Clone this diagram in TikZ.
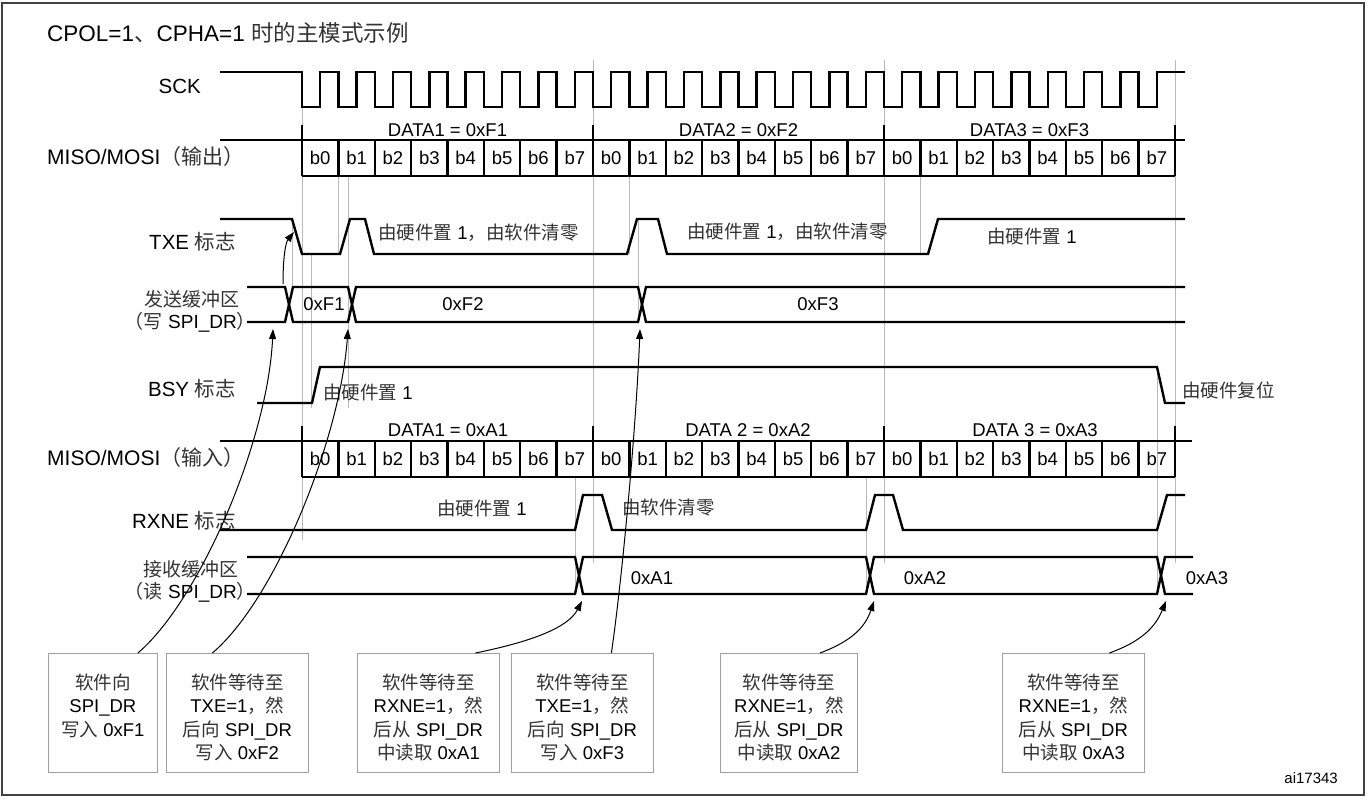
\documentclass[tikz,border=0pt]{standalone}
\usepackage{fontspec}
\setmainfont{Liberation Sans}
\newfontfamily\zhfont{Noto Sans CJK SC}
\usetikzlibrary{arrows.meta}

\newcommand{\zh}[1]{{\zhfont\color{black!80}#1}}
\newcommand{\swtext}[2]{\parbox[c][119pt][t]{#1}{\centering\fontsize{18.5}{23.5}\selectfont\rule{0pt}{36pt}#2}}

\begin{document}
\begin{tikzpicture}[
  x=1pt, y=-1pt,
  sig/.style={line width=2.4pt},
  guide/.style={gray!55, line width=0.7pt},
  lbl/.style={font=\fontsize{20.5}{25}\selectfont, inner sep=0pt},
  buflbl/.style={font=\fontsize{19}{23}\selectfont, inner sep=0pt},
  txt/.style={font=\fontsize{18.5}{22}\selectfont, inner sep=0pt},
  swbox/.style={draw=gray!75, line width=0.8pt, inner sep=0pt, anchor=north west},
  arr/.style={-{Triangle[length=10pt,width=7pt]}, line width=1pt}
]
\useasboundingbox (0,0) rectangle (1367,799);
\draw[black!75, line width=1.5pt] (2,3) rectangle (1364,795);

% guide lines
\foreach \x/\ya/\yb in {302/107/540, 292/219/287, 311/254/408, 338/176/254, 348/176/408,
  593/60/563, 629/176/254, 638/219/322, 884/60/563, 920/176/254, 1175/60/563,
  575/477/594, 866/477/594, 1157/368/594}
  \draw[guide] (\x,\ya) -- (\x,\yb);

% signal names
\node[lbl, font=\fontsize{22.5}{26}\selectfont, anchor=west] (title) at (47,33) {CPOL=1\zh{、}CPHA=1 \zh{时的主模式示例}};
\node[lbl, anchor=east] (sck) at (201,86) {SCK};
\node[lbl, font=\fontsize{21}{25}\selectfont, anchor=west] (mout) at (47,157) {MISO/MOSI\zh{（输出）}};
\node[lbl, anchor=east] (txe) at (236,242) {TXE \zh{标志}};
\node[buflbl] (txbuf) at (192,299) {\zh{发送缓冲区}};
\node[buflbl, anchor=east] (txwr) at (256,322) {\zh{（写} SPI\_DR\zh{）}};
\node[lbl, anchor=east] (bsy) at (236,389) {BSY \zh{标志}};
\node[lbl, font=\fontsize{21}{25}\selectfont, anchor=west] (min) at (47,458) {MISO/MOSI\zh{（输入）}};
\node[lbl, anchor=east] (rxne) at (236,521) {RXNE \zh{标志}};
\node[buflbl] (rxbuf) at (191,569) {\zh{接收缓冲区}};
\node[buflbl, anchor=east] (rxrd) at (256,592) {\zh{（读} SPI\_DR\zh{）}};

% SCK
\draw[sig] (220,72) -- (302,72)
  \foreach \k in {1,...,24} { -- ++(0,35) -- ++(18.1875,0) -- ++(0,-35) -- ++(18.1875,0) }
  -- (1185,72);

% data frames, out and in
\draw[sig] (220,140) -- (1185,140);
\draw[sig] (302,176) -- (1175,176);
\draw[sig] (220,441) -- (1192,441);
\draw[sig] (302,477) -- (1175,477);
\foreach \k in {0,...,24} {
  \draw[sig] ({302+\k*36.375},140) -- ({302+\k*36.375},176);
  \draw[sig] ({302+\k*36.375},441) -- ({302+\k*36.375},477);
}
\foreach \x in {302,593,884,1175} {
  \draw[sig] (\x,125) -- (\x,140);
  \draw[sig] (\x,426) -- (\x,441);
}
\foreach \k in {0,...,23} {
  \pgfmathtruncatemacro\b{mod(\k,8)}
  \node[txt] (ob\k) at ({320.19+\k*36.375},158) {b\b};
  \node[txt] (ib\k) at ({320.19+\k*36.375},459) {b\b};
}
\node[txt] (dout1) at (447.5,130) {DATA1 = 0xF1};
\node[txt] (dout2) at (738.5,130) {DATA2 = 0xF2};
\node[txt] (dout3) at (1029.5,130) {DATA3 = 0xF3};
\node[txt] (din1) at (448,430) {DATA1 = 0xA1};
\node[txt] (din2) at (748,430) {DATA 2 = 0xA2};
\node[txt] (din3) at (1035,430) {DATA 3 = 0xA3};

% TXE
\draw[sig] (220,219) -- (292,219) -- (302,254) -- (340,254) -- (350,219) -- (365,219) -- (374,254)
  -- (627,254) -- (637,219) -- (658,219) -- (667,254) -- (928,254) -- (938,219) -- (1185,219);
\node[txt, anchor=west] (txeset1) at (378,233) {\zh{由硬件置} 1\zh{，由软件清零}};
\node[txt, anchor=west] (txeset2) at (687,232) {\zh{由硬件置} 1\zh{，由软件清零}};
\node[txt, anchor=west] (txeset3) at (987,236) {\zh{由硬件置} 1};

% transmit buffer
\draw[sig] (247,287) -- (285,287) -- (293,322) -- (348,322) -- (356,287) -- (638,287) -- (646,322) -- (1185,322);
\draw[sig] (247,322) -- (285,322) -- (293,287) -- (348,287) -- (356,322) -- (638,322) -- (646,287) -- (1185,287);
\node[txt] (f1) at (324,304) {0xF1};
\node[txt] (f2) at (463,304) {0xF2};
\node[txt] (f3) at (818,304) {0xF3};

% BSY
\draw[sig] (257,403) -- (312,403) -- (320,367) -- (1157,367) -- (1165,403) -- (1185,403);
\node[txt, anchor=west] (bsyset) at (323,392) {\zh{由硬件置} 1};
\node[txt, anchor=west] (bsyclr) at (1182,390) {\zh{由硬件复位}};

% RXNE
\draw[sig] (220,530) -- (575,530) -- (583,495) -- (602,495) -- (612,530) -- (866,530) -- (875,495)
  -- (893,495) -- (903,530) -- (1157,530) -- (1167,495) -- (1185,495);
\node[txt, anchor=west] (rxneset) at (437,508) {\zh{由硬件置} 1};
\node[txt, anchor=west] (rxneclr) at (622,508) {\zh{由软件清零}};

% receive buffer
\draw[sig] (247,557) -- (575,557) -- (583,594) -- (866,594) -- (874,557) -- (1157,557) -- (1165,594) -- (1193,594);
\draw[sig] (247,594) -- (575,594) -- (583,557) -- (866,557) -- (874,594) -- (1157,594) -- (1165,557) -- (1193,557);
\node[txt] (a1) at (652,578) {0xA1};
\node[txt] (a2) at (925,578) {0xA2};
\node[txt] (a3) at (1207,578) {0xA3};

% software steps
\node[swbox] (sw1) at (48,653) {\swtext{109pt}{\zh{软件向}\\SPI\_DR\\\zh{写入} 0xF1}};
\node[swbox] (sw2) at (166,653) {\swtext{142pt}{\zh{软件等待至}\\TXE=1\zh{，然}\\\zh{后向} SPI\_DR\\\zh{写入} 0xF2}};
\node[swbox] (sw3) at (357,653) {\swtext{142pt}{\zh{软件等待至}\\RXNE=1\zh{，然}\\\zh{后从} SPI\_DR\\\zh{中读取} 0xA1}};
\node[swbox] (sw4) at (511,653) {\swtext{142pt}{\zh{软件等待至}\\TXE=1\zh{，然}\\\zh{后向} SPI\_DR\\\zh{写入} 0xF3}};
\node[swbox] (sw5) at (720,653) {\swtext{137pt}{\zh{软件等待至}\\RXNE=1\zh{，然}\\\zh{后从} SPI\_DR\\\zh{中读取} 0xA2}};
\node[swbox] (sw6) at (1002,653) {\swtext{142pt}{\zh{软件等待至}\\RXNE=1\zh{，然}\\\zh{后从} SPI\_DR\\\zh{中读取} 0xA3}};
\node[font=\fontsize{15}{18}\selectfont, anchor=east, inner sep=0pt] (fig) at (1338,778) {ai17343};

\coordinate (wr1) at (273,329);
\coordinate (wr2) at (348,329);
\coordinate (wr3) at (640,329);
\coordinate (rd1) at (582,601);
\coordinate (rd2) at (874,601);
\coordinate (rd3) at (1166,601);
\coordinate (txclr) at (294,232);
\coordinate (txw) at (283,284);

\draw[arr] ([xshift=35pt]sw1.north) .. controls (200,600) and (268,440) .. (wr1);
\draw[arr] ([xshift=-25pt]sw2.north) .. controls (275,600) and (340,440) .. (wr2);
\draw[arr] ([xshift=47pt]sw3.north) .. controls (530,642) and (568,628) .. (rd1);
\draw[arr] ([xshift=29pt]sw4.north) .. controls (622,580) and (636,430) .. (wr3);
\draw[arr] ([xshift=31pt]sw5.north) .. controls (850,642) and (865,628) .. (rd2);
\draw[arr] ([xshift=36pt]sw6.north) .. controls (1140,642) and (1155,628) .. (rd3);
\draw[arr] (txw) .. controls (283,255) and (286,242) .. (txclr);
\end{tikzpicture}
\end{document}
